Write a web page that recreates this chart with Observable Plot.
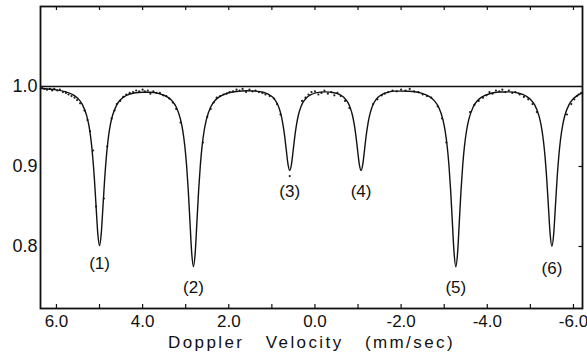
<!DOCTYPE html>
<html>
<head>
<meta charset="utf-8">
<script src="https://cdn.jsdelivr.net/npm/d3@7"></script>
<script src="https://cdn.jsdelivr.net/npm/@observablehq/plot@0.6"></script>
<style>
  html, body { margin: 0; padding: 0; background: #fff; }
</style>
</head>
<body>
<div id="chart"></div>
<script>
// Fitted curve (velocity mm/sec, relative transmission)
const curveV = [6.37, 6.2, 6.0, 5.8, 5.6, 5.5, 5.4, 5.3, 5.25, 5.2, 5.16, 5.12, 5.08, 5.04, 5.0,
  4.96, 4.92, 4.88, 4.84, 4.8, 4.75, 4.7, 4.6, 4.5, 4.4, 4.2, 4.0, 3.82, 3.62, 3.42, 3.32, 3.22,
  3.12, 3.07, 3.02, 2.98, 2.94, 2.90, 2.86, 2.82, 2.78, 2.74, 2.70, 2.66, 2.62, 2.57, 2.52, 2.42,
  2.32, 2.22, 2.02, 1.82, 1.7, 1.585, 1.385, 1.185, 1.085, 0.985, 0.885, 0.835, 0.785, 0.745,
  0.705, 0.665, 0.625, 0.585, 0.545, 0.505, 0.465, 0.425, 0.385, 0.335, 0.285, 0.185, 0.085,
  -0.015, -0.24, -0.47, -0.57, -0.67, -0.77, -0.82, -0.87, -0.91, -0.95, -0.99, -1.03, -1.07,
  -1.11, -1.15, -1.19, -1.23, -1.27, -1.32, -1.37, -1.47, -1.57, -1.67, -1.87, -2.17, -2.27,
  -2.47, -2.67, -2.77, -2.87, -2.97, -3.02, -3.07, -3.11, -3.15, -3.19, -3.23, -3.27, -3.31,
  -3.35, -3.39, -3.43, -3.47, -3.52, -3.57, -3.67, -3.77, -3.87, -4.07, -4.27, -4.385, -4.5,
  -4.7, -4.9, -5.0, -5.1, -5.2, -5.25, -5.3, -5.34, -5.38, -5.42, -5.46, -5.5, -5.54, -5.58,
  -5.62, -5.66, -5.7, -5.75, -5.8, -5.9, -6.0, -6.1, -6.21];
const curveY = [0.9977, 0.9969, 0.9958, 0.9936, 0.9892, 0.9850, 0.9777, 0.9639, 0.9523, 0.9342, 0.9132, 0.8852, 0.8502, 0.8161, 0.8011,
  0.8161, 0.8501, 0.8850, 0.9130, 0.9339, 0.9519, 0.9634, 0.9770, 0.9841, 0.9881, 0.9918, 0.9929, 0.9929, 0.9911, 0.9867, 0.9823, 0.9744,
  0.9588, 0.9454, 0.9253, 0.9018, 0.8700, 0.8300, 0.7916, 0.7748, 0.7916, 0.8300, 0.8698, 0.9016, 0.9251, 0.9453, 0.9587, 0.9744,
  0.9825, 0.9871, 0.9919, 0.9938, 0.9943, 0.9946, 0.9942, 0.9925, 0.9904, 0.9868, 0.9797, 0.9735, 0.9642, 0.9534,
  0.9388, 0.9204, 0.9028, 0.8951, 0.9027, 0.9203, 0.9387, 0.9533, 0.9641, 0.9733, 0.9795, 0.9865, 0.9900,
  0.9920, 0.9933, 0.9919, 0.9900, 0.9865, 0.9795, 0.9733, 0.9641, 0.9533, 0.9387, 0.9203, 0.9027, 0.8950,
  0.9027, 0.9204, 0.9388, 0.9534, 0.9642, 0.9735, 0.9797, 0.9868, 0.9904, 0.9924, 0.9942, 0.9941, 0.9937,
  0.9917, 0.9870, 0.9823, 0.9743, 0.9586, 0.9452, 0.9250, 0.9015, 0.8697, 0.8298, 0.7915, 0.7747, 0.7915,
  0.8299, 0.8698, 0.9016, 0.9251, 0.9453, 0.9586, 0.9741, 0.9822, 0.9867, 0.9912, 0.9931, 0.9932, 0.9933,
  0.9920, 0.9881, 0.9840, 0.9770, 0.9632, 0.9513, 0.9334, 0.9126, 0.8844, 0.8490, 0.8150, 0.8001, 0.8150, 0.8491,
  0.8846, 0.9128, 0.9337, 0.9516, 0.9637, 0.9776, 0.9849, 0.9891, 0.9921];

// Measured data points (scattered dots)
const dotV = [6.33, 6.28, 6.22, 6.15, 6.1, 6.05, 5.98, 5.92, 5.85, 5.78, 5.72, 5.65, 5.58, 5.52, 5.45, 5.35, 5.28, 5.22, 5.15, 5.08,
  4.9, 4.82, 4.72, 4.65, 4.6, 4.52, 4.45, 4.38, 4.3, 4.22, 4.15, 4.08, 4.0, 3.95, 3.88, 3.82, 3.75, 3.68, 3.6, 3.52, 3.45, 3.38, 3.3, 3.22, 3.12,
  2.6, 2.5, 2.42, 2.35, 2.28, 2.2, 2.12, 2.05, 1.98, 1.9, 1.82, 1.75, 1.68, 1.6, 1.52, 1.45, 1.38, 1.3, 1.22, 1.15, 1.05, 0.95, 0.88, 0.8, 0.585,
  0.3, 0.22, 0.15, 0.08, 0.0, -0.08, -0.15, -0.22, -0.3, -0.38, -0.45, -0.52, -0.6, -0.7, -0.8,
  -1.35, -1.45, -1.55, -1.62, -1.7, -1.8, -1.9, -2.0, -2.1, -2.2, -2.3, -2.4, -2.5, -2.6, -2.7, -2.85, -2.95, -3.05,
  -3.6, -3.7, -3.8, -3.9, -3.98, -4.05, -4.12, -4.2, -4.28, -4.35, -4.42, -4.5, -4.58, -4.65, -4.75, -4.85, -4.95, -5.05, -5.15,
  -5.85, -5.95, -6.02, -6.08, -6.12, -6.18];
const dotY = [0.998, 0.997, 0.996, 0.997, 0.995, 0.997, 0.995, 0.996, 0.993, 0.992, 0.990, 0.988, 0.986, 0.983, 0.979, 0.970, 0.958, 0.944, 0.920, 0.850,
  0.860, 0.925, 0.960, 0.970, 0.978, 0.982, 0.987, 0.990, 0.992, 0.993, 0.995, 0.994, 0.996, 0.994, 0.995, 0.991, 0.994, 0.992, 0.992, 0.989, 0.988, 0.985, 0.980, 0.972, 0.955,
  0.930, 0.962, 0.972, 0.980, 0.986, 0.988, 0.990, 0.991, 0.993, 0.994, 0.996, 0.995, 0.997, 0.993, 0.996, 0.994, 0.995, 0.993, 0.992, 0.990, 0.988, 0.985, 0.978, 0.965, 0.888,
  0.982, 0.986, 0.990, 0.993, 0.994, 0.990, 0.992, 0.995, 0.991, 0.993, 0.989, 0.992, 0.988, 0.982, 0.973,
  0.978, 0.984, 0.989, 0.991, 0.993, 0.995, 0.994, 0.996, 0.995, 0.997, 0.994, 0.993, 0.990, 0.988, 0.986, 0.975, 0.960, 0.930,
  0.968, 0.977, 0.982, 0.986, 0.989, 0.993, 0.991, 0.995, 0.994, 0.996, 0.993, 0.995, 0.992, 0.993, 0.990, 0.987, 0.984, 0.978, 0.968,
  0.965, 0.978, 0.984, 0.988, 0.990, 0.992];

// Line labels
const peakV = [5.0, 2.82, 0.585, -1.07, -3.27, -5.5];
const peakLabelY = [0.779, 0.749, 0.869, 0.869, 0.749, 0.7725];
const peakText = ["(1)", "(2)", "(3)", "(4)", "(5)", "(6)"];

// Axes
const xTickLabels = [6, 4, 2, 0, -2, -4, -6];
const xMinorTicks = [6, 5, 4, 3, 2, 1, 0, -1, -2, -3, -4, -5, -6];
const yTickLabels = [1.0, 0.9, 0.8];
const rightTicks = [0.9, 0.8];
const xDomain = [6.37, -6.21];
const yDomain = [0.7225, 1.1];
const xTitle = "Doppler\u00a0\u00a0 Velocity\u00a0\u00a0 (mm/sec)";

const curve = curveV.map((v, i) => ({v, y: curveY[i]}));
const dots = dotV.map((v, i) => ({v, y: dotY[i]}));
const peaks = peakV.map((v, i) => ({v, y: peakLabelY[i], t: peakText[i]}));

const chart = Plot.plot({
  width: 587,
  height: 358,
  marginTop: 6,
  marginRight: 5,
  marginBottom: 50,
  marginLeft: 40,
  style: {fontFamily: "'Liberation Sans', sans-serif", background: "#fff", color: "#111"},
  x: {domain: xDomain},
  y: {domain: yDomain},
  marks: [
    Plot.axisX(xTickLabels, {tickSize: 0, tickPadding: 6, fontSize: 17, tickFormat: d => d.toFixed(1), label: null}),
    Plot.axisY(yTickLabels, {tickSize: 0, tickPadding: 3, fontSize: 18, tickFormat: d => d.toFixed(1), label: null}),
    Plot.ruleX(xMinorTicks, {x: d => d, y1: yDomain[0], y2: yDomain[0] + 0.005, stroke: "#111", strokeWidth: 1.2}),
    Plot.ruleX(xMinorTicks, {x: d => d, y1: yDomain[1], y2: yDomain[1] - 0.005, stroke: "#111", strokeWidth: 1.2}),
    Plot.ruleY(rightTicks, {y: d => d, x1: xDomain[1], x2: xDomain[1] + 0.08, stroke: "#111", strokeWidth: 1.2}),
    Plot.ruleY([1.0], {stroke: "#111", strokeWidth: 1.4}),
    Plot.frame({stroke: "#111", strokeWidth: 1.8}),
    Plot.dot(dots, {x: "v", y: "y", r: 1.1, fill: "#222", stroke: null}),
    Plot.line(curve, {x: "v", y: "y", curve: "monotone-x", stroke: "#111", strokeWidth: 1.4}),
    Plot.text(peaks, {x: "v", y: "y", text: "t", fontSize: 17, fill: "#111"}),
    Plot.text([xTitle], {text: d => d, frameAnchor: "bottom", dy: 39, fontSize: 17, fill: "#111"})
  ]
});

d3.select(chart).selectAll("text").filter(function() { return this.textContent === xTitle; })
  .style("letter-spacing", "2.4px");

document.getElementById("chart").appendChild(chart);
</script>
</body>
</html>
